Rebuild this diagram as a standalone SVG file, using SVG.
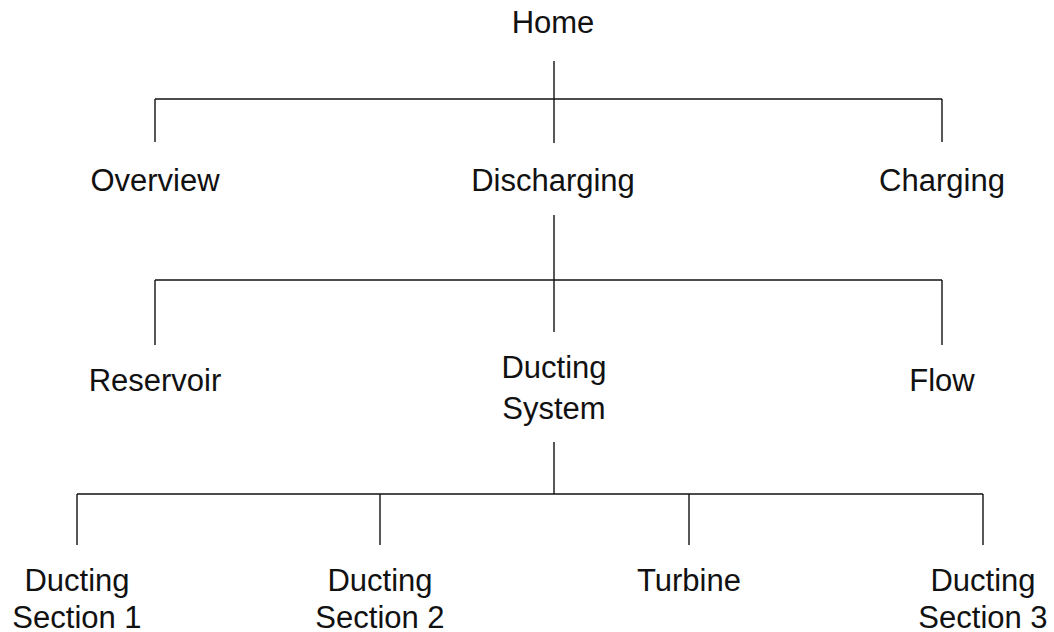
<svg xmlns="http://www.w3.org/2000/svg" width="1054" height="632" viewBox="0 0 1054 632">
<style>
text{font-family:"Liberation Sans",Arial,sans-serif;font-size:31px;fill:#111;text-anchor:middle}
.c line{stroke:#111;stroke-width:1.4;fill:none}
</style>
<rect width="1054" height="632" fill="#fff"/>
<g class="c" id="connectors">
<line x1="554" y1="61" x2="554" y2="143"/>
<line x1="155" y1="99" x2="942" y2="99"/>
<line x1="155" y1="99" x2="155" y2="142"/>
<line x1="942" y1="99" x2="942" y2="142"/>
<line x1="554" y1="215" x2="554" y2="332"/>
<line x1="155" y1="280" x2="942" y2="280"/>
<line x1="155" y1="280" x2="155" y2="345"/>
<line x1="942" y1="280" x2="942" y2="345"/>
<line x1="554" y1="442" x2="554" y2="494"/>
<line x1="77" y1="494" x2="983" y2="494"/>
<line x1="77" y1="494" x2="77" y2="545"/>
<line x1="380" y1="494" x2="380" y2="545"/>
<line x1="689" y1="494" x2="689" y2="545"/>
<line x1="983" y1="494" x2="983" y2="545"/>
</g>
<g id="home"><text x="553" y="33">Home</text></g>
<g id="overview"><text x="155" y="191">Overview</text></g>
<g id="discharging"><text x="553" y="191">Discharging</text></g>
<g id="charging"><text x="942" y="191">Charging</text></g>
<g id="reservoir"><text x="155" y="391">Reservoir</text></g>
<g id="ducting-system"><text x="554" y="378">Ducting</text><text x="554" y="419">System</text></g>
<g id="flow"><text x="942" y="391">Flow</text></g>
<g id="ducting-section-1"><text x="77" y="591">Ducting</text><text x="77" y="628">Section 1</text></g>
<g id="ducting-section-2"><text x="380" y="591">Ducting</text><text x="380" y="628">Section 2</text></g>
<g id="turbine"><text x="689" y="591">Turbine</text></g>
<g id="ducting-section-3"><text x="983" y="591">Ducting</text><text x="983" y="628">Section 3</text></g>
</svg>
